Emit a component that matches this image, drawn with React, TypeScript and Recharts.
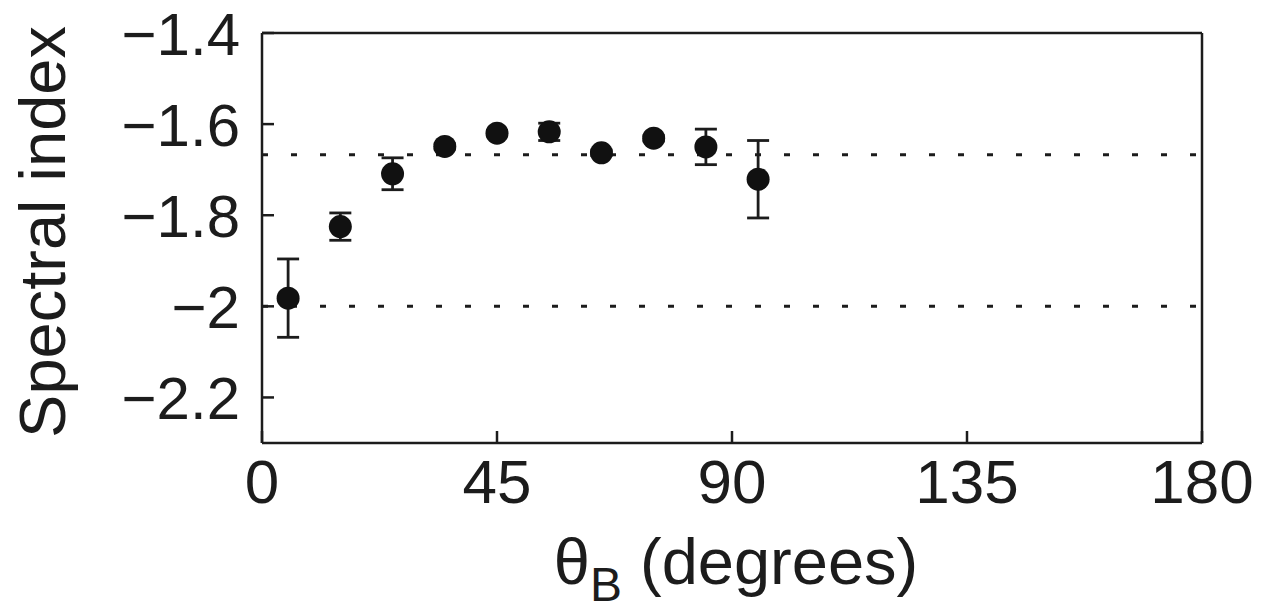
import { ScatterChart, Scatter, XAxis, YAxis, ErrorBar, ReferenceLine } from 'recharts'

// spectral index vs. magnetic angle
const angles = [5, 15, 25, 35, 45, 55, 65, 75, 85, 95]
const spectralIndex = [-1.982, -1.825, -1.709, -1.649, -1.62, -1.617, -1.663, -1.631, -1.65, -1.721]
const indexError = [0.086, 0.03, 0.035, 0.006, 0.006, 0.019, 0.006, 0.006, 0.039, 0.085]

const xTicks = [0, 45, 90, 135, 180]
const yTicks = [-2.2, -2, -1.8, -1.6, -1.4]
const dottedLevels = [-1.667, -2]

const points = angles.map((a, i) => ({ theta: a, index: spectralIndex[i], err: indexError[i] }))

const INK = '#1c1c1c'
const FONT = '"Liberation Sans", Arial, Helvetica, sans-serif'
const TICK_LEN = 12

const fmt = (v: number) => (v < 0 ? '\u2212' + Math.abs(v) : String(v))

function BottomTick({ x, y, payload }: any) {
  return (
    <g>
      <line x1={x} x2={x} y1={y} y2={y - TICK_LEN} stroke={INK} strokeWidth={2.5} />
      <text x={x} y={y + 60} textAnchor="middle" fontSize={62} fontFamily={FONT} fill={INK}>
        {fmt(payload.value)}
      </text>
    </g>
  )
}

function TopTick({ x, y }: any) {
  return <line x1={x} x2={x} y1={y - 8} y2={y + TICK_LEN} stroke={INK} strokeWidth={2.5} />
}

function LeftTick({ x, y, payload }: any) {
  return (
    <g>
      <line x1={x} x2={x + TICK_LEN} y1={y} y2={y} stroke={INK} strokeWidth={2.5} />
      <text x={x - 22} y={y} dy="0.36em" textAnchor="end" fontSize={60} fontFamily={FONT} fill={INK}>
        {fmt(payload.value)}
      </text>
    </g>
  )
}

function RightTick({ x, y }: any) {
  return <line x1={x} x2={x - TICK_LEN} y1={y} y2={y} stroke={INK} strokeWidth={2.5} />
}

function YLabel({ viewBox }: any) {
  const bx = viewBox.x + 65
  const cy = viewBox.y + viewBox.height / 2 - 6
  return (
    <text
      x={bx}
      y={cy}
      transform={`rotate(-90, ${bx}, ${cy})`}
      textAnchor="middle"
      fontSize={65}
      fontFamily={FONT}
      fill={INK}
    >
      Spectral index
    </text>
  )
}

function XLabel({ viewBox }: any) {
  const cx = viewBox.x + viewBox.width / 2 + 4
  const by = viewBox.y + 141
  return (
    <text x={cx} y={by} textAnchor="middle" fontSize={65} fontFamily={FONT} fill={INK}>
      <tspan>θ</tspan>
      <tspan fontSize={48} dy={17}>B</tspan>
      <tspan dy={-17}> (degrees)</tspan>
    </text>
  )
}

function Dot({ cx, cy }: any) {
  return <circle cx={cx} cy={cy} r={11.5} fill="#111" />
}

export default function App() {
  const axisLine = { stroke: INK, strokeWidth: 2.5 }
  return (
    <div style={{ position: 'absolute', left: 0, top: 0, background: '#fff' }}>
      <ScatterChart width={1265} height={614} margin={{ top: 0, right: 0, bottom: 0, left: 0 }}>
        <XAxis
          xAxisId="bottom"
          dataKey="theta"
          type="number"
          domain={[0, 180]}
          ticks={xTicks}
          interval={0}
          height={171}
          tickSize={0}
          tickMargin={0}
          tickLine={false}
          axisLine={axisLine}
          tick={<BottomTick />}
          label={<XLabel />}
        />
        <XAxis
          xAxisId="top"
          orientation="top"
          type="number"
          domain={[0, 180]}
          ticks={[45, 90, 135]}
          interval={0}
          height={33}
          tickSize={0}
          tickMargin={0}
          tickLine={false}
          axisLine={axisLine}
          tick={<TopTick />}
        />
        <YAxis
          yAxisId="left"
          dataKey="index"
          type="number"
          domain={[-2.3, -1.4]}
          ticks={yTicks}
          interval={0}
          width={262}
          tickSize={0}
          tickMargin={0}
          tickLine={false}
          axisLine={axisLine}
          tick={<LeftTick />}
          label={<YLabel />}
        />
        <YAxis
          yAxisId="right"
          orientation="right"
          type="number"
          domain={[-2.3, -1.4]}
          ticks={[-2.2, -2, -1.8, -1.6]}
          interval={0}
          width={63}
          tickSize={0}
          tickMargin={0}
          tickLine={false}
          axisLine={axisLine}
          tick={<RightTick />}
        />
        {dottedLevels.map((lvl) => (
          <ReferenceLine
            key={lvl}
            xAxisId="bottom"
            yAxisId="left"
            y={lvl}
            stroke={INK}
            strokeWidth={3}
            strokeDasharray="6 23"
          />
        ))}
        <Scatter
          data={points}
          xAxisId="bottom"
          yAxisId="left"
          shape={<Dot />}
          isAnimationActive={false}
        >
          <ErrorBar dataKey="err" direction="y" width={11} stroke={INK} strokeWidth={2.8} isAnimationActive={false} />
        </Scatter>
      </ScatterChart>
    </div>
  )
}
